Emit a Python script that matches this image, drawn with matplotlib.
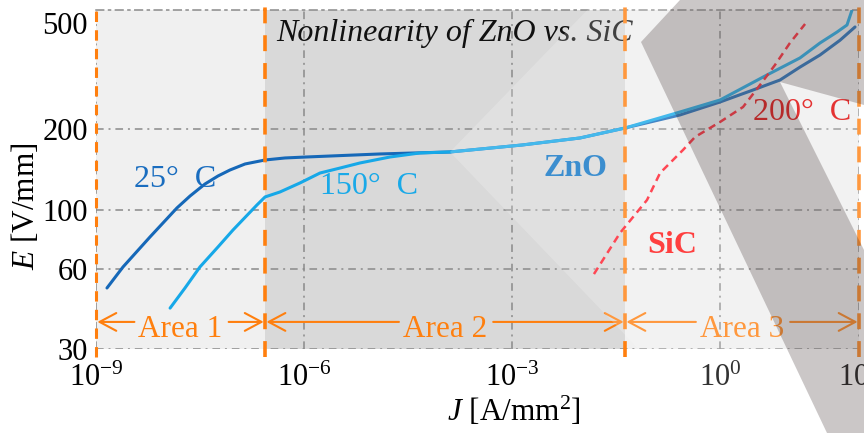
import numpy as np
import matplotlib.pyplot as plt
from matplotlib.patches import Polygon
from matplotlib.transforms import Affine2D

plt.rcParams["font.family"] = ["Liberation Serif", "DejaVu Serif"]
plt.rcParams["mathtext.fontset"] = "custom"
plt.rcParams["mathtext.rm"] = "Liberation Serif"
plt.rcParams["mathtext.it"] = "Liberation Serif:italic"
plt.rcParams["mathtext.bf"] = "Liberation Serif:bold"

# ZnO at 25 C
j_25 = [1.44e-9, 2.45e-9, 6.0e-9, 1.47e-8, 2.27e-8, 3.73e-8, 5.74e-8, 8.55e-8, 1.41e-7,
        2.74e-7, 5.31e-7, 1.07e-6, 1.25e-5, 1.27e-4, 1.39e-3, 9.5e-3, 4.24e-2, 0.263,
        0.993, 2.97, 7.27, 14.1, 27.4, 53.3, 87.7]
e_25 = [50.8, 60.9, 78.9, 101.4, 112.4, 124.7, 133.6, 140.7, 148.2,
        153.4, 156.1, 157.4, 161.6, 164.4, 174.6, 185.5, 202.2, 226.3,
        253.1, 280.7, 306.0, 342, 379.7, 431.4, 483.7]

# ZnO at 150 C
j_150 = [1.17e-8, 1.92e-8, 3.15e-8, 5.74e-8, 9.44e-8, 2.09e-7, 2.74e-7, 4.5e-7, 8.73e-7,
         1.7e-6, 3.3e-6, 6.4e-6, 1.73e-5, 4.69e-5, 1.27e-4, 1.39e-3, 9.5e-3, 4.24e-2,
         0.263, 0.993, 4.72, 14.1, 27.4, 48.2, 67.2, 79.4]
e_150 = [42.7, 50.8, 60.9, 72.4, 83.8, 104.0, 111.5, 116.4, 125.8,
         137.1, 143.1, 149.5, 157.4, 163.0, 164.4, 174.6, 185.5, 202.2,
         232.2, 257.5, 319.6, 370.2, 421.2, 462.9, 492.1, 560]

# SiC at 200 C
j_sic = [0.0151, 0.0359, 0.0879, 0.1355, 0.290, 0.433, 0.993, 2.13, 3.74, 6.15, 10.1, 16.7]
e_sic = [57.3, 81.7, 108.6, 137.1, 167.2, 187.1, 213.0, 242.4, 293.1, 348.4, 421.2, 496.3]

area_edges = [1e-9, 2.74e-7, 4.24e-2, 1e2]
area_names = ["Area 1", "Area 2", "Area 3"]
area_colors = ["#f0f0f0", "#d9d9d9", "#f0f0f0"]
area_y = 37.9

x_ticks = [1e-9, 1e-6, 1e-3, 1e0, 1e2]
x_labels = ["$10^{-9}$", "$10^{-6}$", "$10^{-3}$", "$10^{0}$", "$10^{2}$"]
y_ticks = [30, 60, 100, 200, 500]
y_labels = ["30", "60", "100", "200", "500"]

orange = "#ff7f0e"
grid_style = dict(color="#8a8a8a", lw=1.1, ls=(0, (5, 3.2, 1.3, 3.2)))

fig = plt.figure(figsize=(8.64, 4.33), dpi=100)
ax = fig.add_axes([0.1111, 0.194, 0.8831, 0.7829])
ax.set_xscale("log")
ax.set_yscale("log")
ax.set_xlim(1e-9, 1e2)
ax.set_ylim(30, 560)

#! fondo por zonas
for i in range(3):
    ax.axvspan(area_edges[i], area_edges[i + 1], color=area_colors[i], lw=0, zorder=0.1)

ax.set_axisbelow(True)
ax.minorticks_off()
ax.set_xticks(x_ticks)
ax.set_xticklabels(x_labels)
ax.set_yticks(y_ticks)
ax.set_yticklabels(y_labels)
ax.grid(True, which="major", **grid_style)
for v, gl in zip(y_ticks, ax.get_ygridlines()):
    if v == 500:
        gl.set_visible(False)
ax.tick_params(axis="x", length=0, labelsize=22, pad=11)
ax.tick_params(axis="y", length=0, labelsize=22, pad=6)
for name, s in ax.spines.items():
    s.set_visible(name == "top")
ax.spines["top"].set_color(grid_style["color"])
ax.spines["top"].set_linewidth(grid_style["lw"])
ax.spines["top"].set_linestyle(grid_style["ls"])

#! curvas
ax.plot(j_25, e_25, color="#1668b8", lw=2.2, zorder=3, solid_capstyle="round")
ax.plot(j_150, e_150, color="#16a8e8", lw=2.2, zorder=3, solid_capstyle="round")
ax.plot(j_sic, e_sic, color="#ff1a2a", lw=1.8, ls=(0, (3, 2)), zorder=3)

#! lineas de zona
for k, xe in enumerate(area_edges):
    if k == 0:
        lw, ls = 2.2, (0, (3.4, 2.7))
    else:
        lw, ls = 2.6, (0, (4.4, 3.3))
    ax.plot([xe, xe], [-0.025, 1.02], transform=ax.get_xaxis_transform(),
            color=orange, lw=lw, ls=ls, clip_on=False, zorder=4)

#! textos
ax.text(1.38e-8, 129.1, "25°  C", color="#1a6dbf", fontsize=23, ha="center", va="center")
ax.text(8.6e-6, 121.5, "150°  C", color="#19a9e8", fontsize=23, ha="center", va="center")
ax.text(8.05e-3, 143.1, "ZnO", color="#0c73c4", fontsize=23, fontweight="bold",
        ha="center", va="center")
ax.text(0.202, 73.6, "SiC", color="#ff1010", fontsize=23, fontweight="bold",
        ha="center", va="center")
ax.text(15.1, 230.2, "200°  C", color="#de0000", fontsize=23, ha="center", va="center")
ax.text(0.4705, 0.932, "Nonlinearity of ZnO vs. SiC", transform=ax.transAxes,
        style="italic", fontsize=23, color="#111111", ha="center", va="center")

ax.set_xlabel("$J$ [A/mm$^2$]", fontsize=22.5)
ax.xaxis.set_label_coords(0.548, -0.135)
ax.set_ylabel("$E$ [V/mm]", fontsize=22.5)
ax.yaxis.set_label_coords(-0.072, 0.422)

#! flechas de zona
area_texts = []
for i in range(3):
    mid = np.sqrt(area_edges[i] * area_edges[i + 1])
    t = ax.annotate(area_names[i], xy=(mid, area_y), xytext=(0, -11),
                    textcoords="offset points", ha="center", va="baseline",
                    fontsize=22.5, color=orange, zorder=5)
    area_texts.append(t)

fig.canvas.draw()
renderer = fig.canvas.get_renderer()
inv = ax.transData.inverted()
arrow = dict(arrowstyle="->,head_length=0.6,head_width=0.32", color=orange,
             lw=1.5, shrinkA=0, shrinkB=1, mutation_scale=20)
for i, t in enumerate(area_texts):
    bb = t.get_window_extent(renderer)
    left = inv.transform((bb.x0 - 4, 0))[0]
    right = inv.transform((bb.x1 + 6, 0))[0]
    ax.annotate("", xy=(area_edges[i], area_y), xytext=(left, area_y), arrowprops=arrow, zorder=5)
    ax.annotate("", xy=(area_edges[i + 1], area_y), xytext=(right, area_y), arrowprops=arrow, zorder=5)

#! formas de fondo (pixeles de la imagen, origen arriba a la izquierda)
pix = Affine2D().scale(1 / 864, -1 / 433).translate(0, 1) + fig.transFigure
light_shape = [(450, 152), (597, 0), (864, 0), (864, 433), (719, 433)]
band_shape = [(641, 42), (680, 0), (864, 0), (864, 105), (780, 82),
              (864, 250), (864, 433), (827, 433)]
fig.add_artist(Polygon(light_shape, closed=True, transform=pix, facecolor="white",
                       alpha=0.2, lw=0, zorder=10))
fig.add_artist(Polygon(band_shape, closed=True, transform=pix, facecolor="#1f0f0f",
                       alpha=0.23, lw=0, zorder=11))

fig.savefig("out.png", dpi=100)
